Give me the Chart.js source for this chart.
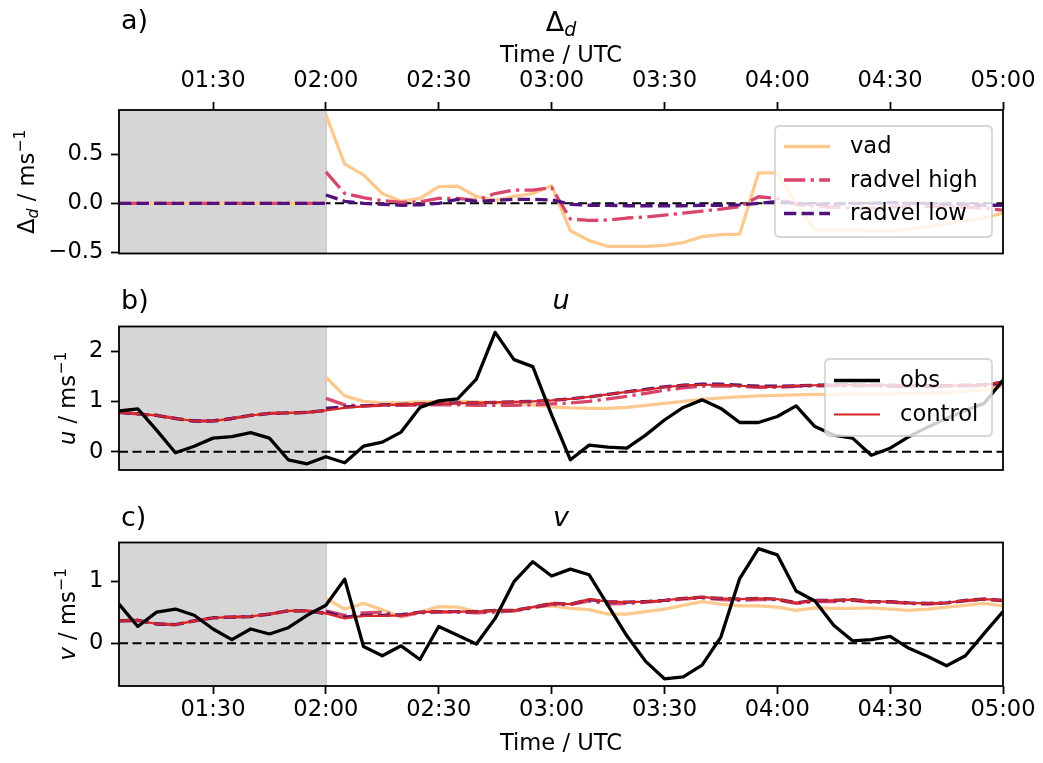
<!DOCTYPE html>
<html><head><meta charset="utf-8">
<script src="https://cdn.jsdelivr.net/npm/chart.js@4"></script>
<style>
html,body{margin:0;padding:0;background:#fff;}
#wrap{position:relative;width:1043px;height:763px;background:#fff;}
canvas{position:absolute;left:0;top:0;}
</style></head><body>
<div id="wrap">
<canvas id="ca" width="1043" height="763"></canvas>
<canvas id="cb" width="1043" height="763"></canvas>
<canvas id="cc" width="1043" height="763"></canvas>
</div>
<script>
// ---------- DATA ----------
// full time axis (5-minute steps)
const times = ["01:05","01:10","01:15","01:20","01:25","01:30","01:35","01:40","01:45","01:50","01:55","02:00",
  "02:05","02:10","02:15","02:20","02:25","02:30","02:35","02:40","02:45","02:50","02:55","03:00",
  "03:05","03:10","03:15","03:20","03:25","03:30","03:35","03:40","03:45","03:50","03:55","04:00",
  "04:05","04:10","04:15","04:20","04:25","04:30","04:35","04:40","04:45","04:50","04:55","05:00"];
const xTickLabels = ["01:30","02:00","02:30","03:00","03:30","04:00","04:30","05:00"];
const spinupEnd = "02:00";
// spin-up period: 01:05 .. 02:00 (12 values); assimilation period: 02:00 .. 05:00 (37 values)

// panel a: Delta_d
const spinDelta = [0,0,0,0,0,0,0,0,0,0,0,0];
const vadDelta = [0.905,0.40,0.29,0.10,0.02,0.05,0.17,0.175,0.07,0.03,0.07,0.10,0.18,
  -0.28,-0.38,-0.44,-0.44,-0.44,-0.43,-0.40,-0.34,-0.32,-0.315,0.31,0.31,
  0.0,-0.27,-0.27,-0.27,-0.28,-0.28,-0.26,-0.24,-0.21,-0.18,-0.15,-0.10];
const radHighDelta = [0.32,0.10,0.057,0.027,0.01,0.015,0.05,0.05,0.03,0.10,0.135,0.135,0.16,
  -0.16,-0.175,-0.17,-0.15,-0.14,-0.12,-0.10,-0.08,-0.06,-0.035,0.067,0.05,
  -0.01,-0.03,-0.04,-0.05,-0.05,-0.04,-0.03,-0.03,-0.03,-0.04,-0.05,-0.07];
const radLowDelta = [0.085,0.02,0.0,-0.01,-0.02,-0.015,0.0,0.04,0.02,0.03,0.04,0.04,0.035,
  -0.01,-0.02,-0.02,-0.025,-0.025,-0.025,-0.025,-0.02,-0.02,-0.015,0.0,0.02,
  0.0,-0.01,-0.01,0.0,0.0,0.01,0.0,0.0,-0.01,-0.01,-0.02,-0.02];

// panel b: u
const obsU = [0.81,0.85,0.43,-0.02,0.11,0.27,0.30,0.38,0.27,-0.16,-0.24,-0.10,
  -0.22,0.11,0.19,0.39,0.88,1.01,1.05,1.44,2.37,1.83,1.69,0.73,
  -0.16,0.13,0.09,0.07,0.33,0.63,0.88,1.03,0.86,0.58,0.58,0.70,
  0.91,0.50,0.33,0.27,-0.07,0.07,0.30,0.49,0.66,0.82,0.96,1.42];
const controlU = [0.78,0.75,0.72,0.66,0.61,0.61,0.66,0.72,0.76,0.77,0.78,0.82,
  0.87,0.90,0.92,0.94,0.95,0.96,0.96,0.97,0.98,0.99,1.00,1.02,
  1.05,1.09,1.14,1.19,1.23,1.28,1.32,1.33,1.33,1.31,1.29,1.29,
  1.31,1.32,1.33,1.33,1.32,1.32,1.31,1.31,1.31,1.32,1.33,1.38];
const spinU = [0.78,0.75,0.72,0.66,0.61,0.61,0.66,0.72,0.76,0.77,0.78,0.82];
const vadU = [1.48,1.11,1.00,0.97,0.97,0.99,1.00,1.00,0.99,0.97,0.96,0.93,0.89,
  0.87,0.86,0.86,0.88,0.92,0.96,1.00,1.04,1.07,1.09,1.11,1.12,
  1.13,1.14,1.14,1.15,1.15,1.15,1.16,1.17,1.18,1.20,1.23,1.30];
const radHighU = [1.06,0.93,0.91,0.92,0.92,0.93,0.93,0.93,0.92,0.92,0.92,0.93,0.95,
  0.97,1.00,1.05,1.10,1.16,1.22,1.27,1.30,1.31,1.30,1.28,1.28,
  1.30,1.31,1.31,1.31,1.31,1.30,1.30,1.30,1.30,1.31,1.31,1.35];
const radLowU = [0.86,0.89,0.91,0.93,0.94,0.95,0.96,0.97,0.97,0.98,0.99,1.00,1.02,
  1.05,1.09,1.14,1.19,1.24,1.29,1.32,1.34,1.34,1.32,1.30,1.30,
  1.31,1.32,1.33,1.33,1.32,1.32,1.31,1.31,1.31,1.32,1.33,1.38];

// panel c: v
const obsV = [0.63,0.27,0.50,0.55,0.45,0.23,0.06,0.23,0.15,0.25,0.45,0.61,
  1.03,-0.05,-0.20,-0.04,-0.26,0.27,0.13,-0.01,0.40,0.99,1.31,1.08,
  1.19,1.10,0.61,0.12,-0.29,-0.57,-0.54,-0.35,0.10,1.04,1.52,1.42,
  0.84,0.68,0.29,0.04,0.06,0.11,-0.08,-0.21,-0.36,-0.20,0.16,0.51];
const controlV = [0.36,0.37,0.31,0.30,0.36,0.41,0.42,0.43,0.47,0.52,0.52,0.48,
  0.40,0.44,0.44,0.45,0.50,0.51,0.51,0.51,0.53,0.53,0.58,0.64,
  0.63,0.71,0.67,0.66,0.67,0.69,0.72,0.74,0.72,0.71,0.72,0.71,
  0.65,0.69,0.69,0.70,0.67,0.67,0.65,0.64,0.65,0.69,0.71,0.69];
const spinV = [0.36,0.37,0.31,0.30,0.36,0.41,0.42,0.43,0.47,0.52,0.52,0.48];
const vadV = [0.72,0.55,0.64,0.54,0.42,0.50,0.59,0.58,0.51,0.51,0.52,0.58,0.60,
  0.56,0.54,0.47,0.47,0.51,0.55,0.61,0.67,0.63,0.60,0.60,0.58,
  0.53,0.57,0.56,0.56,0.57,0.55,0.53,0.55,0.58,0.61,0.64,0.60];
const radHighV = [0.52,0.45,0.49,0.50,0.44,0.49,0.50,0.50,0.49,0.50,0.52,0.57,0.62,
  0.62,0.68,0.63,0.64,0.66,0.68,0.71,0.73,0.70,0.69,0.70,0.70,
  0.64,0.67,0.67,0.69,0.66,0.66,0.64,0.63,0.65,0.68,0.71,0.68];
const radLowV = [0.50,0.42,0.45,0.45,0.46,0.50,0.51,0.51,0.51,0.53,0.53,0.58,0.64,
  0.63,0.70,0.67,0.66,0.67,0.69,0.72,0.74,0.72,0.71,0.72,0.71,
  0.65,0.69,0.69,0.70,0.67,0.67,0.65,0.64,0.65,0.69,0.71,0.69];

const yTicksA = [-0.5, 0.0, 0.5];
const yTicksB = [0, 1, 2];
const yTicksC = [0, 1];

// ---------- HELPERS ----------
Chart.defaults.font.family = '"DejaVu Sans", sans-serif';
Chart.defaults.color = '#000';
const FONT = '"DejaVu Sans"';
const FS = 22.6;

const toMin = s => parseInt(s.slice(0,2),10)*60 + parseInt(s.slice(3),10);
const fmtMin = m => String(Math.floor(m/60)).padStart(2,'0') + ':' + String(m%60).padStart(2,'0');
const xTickVals = xTickLabels.map(toMin);
const X0 = toMin(times[0]), X1 = toMin(times[times.length-1]);
const iSplit = times.indexOf(spinupEnd);
const spinTimes = times.slice(0, iSplit + 1);
const daTimes = times.slice(iSplit);
const series = arr => arr.map((v,i)=>({x: toMin(times[i]), y: v}));
// model run: spin-up segment, a break, then the assimilation segment
const modelSeries = (spin, da) => spin.map((v,i)=>({x: toMin(spinTimes[i]), y: v}))
  .concat([{x: toMin(spinupEnd), y: null}])
  .concat(da.map((v,i)=>({x: toMin(daTimes[i]), y: v})));

const COL = {vad:'#fdc98e', high:'#d8466c', low:'#51127c', obs:'#000000', ctrl:'#d62728'};
const LW = 3.3;
const DASHED = [12.3,5.3], DASHDOT = [21.3,5.3,3.3,5.3], ZERO = [9,4.5];

function dsPts(label, pts, color, width, dash){
  return {label, data: pts, borderColor: color, borderWidth: width, borderDash: dash||[],
    fill:false, pointRadius:0, tension:0, spanGaps:false, borderJoinStyle:'round', borderCapStyle:'butt'};
}
const ds = (label, data, color, width, dash) => dsPts(label, series(data), color, width, dash);
const dsModel = (label, spin, da, color, width, dash) => dsPts(label, modelSeries(spin, da), color, width, dash);
function zeroDs(){
  return {label:'zero', data:[{x:X0,y:0},{x:X1,y:0}], borderColor:'#000', borderWidth:2.1,
    borderDash:ZERO, pointRadius:0, fill:false};
}
function fmtMinus(v, dec){ const s = Math.abs(v).toFixed(dec); return (v < 0 ? '\u2212' : '') + s; }

function drawRich(ctx, parts, x, y, rotate){
  ctx.save();
  ctx.translate(x, y);
  if (rotate) ctx.rotate(-Math.PI/2);
  let total = 0;
  parts.forEach(p=>{ ctx.font = (p.italic?'italic ':'') + p.size + 'px ' + FONT; p.w = ctx.measureText(p.t).width; total += p.w; });
  let cx = -total/2;
  ctx.fillStyle = '#000'; ctx.textBaseline = 'alphabetic'; ctx.textAlign = 'left';
  parts.forEach(p=>{ ctx.font = (p.italic?'italic ':'') + p.size + 'px ' + FONT; ctx.fillText(p.t, cx, p.dy||0); cx += p.w; });
  ctx.restore();
}
function drawLegend(ctx, box, items){
  ctx.save();
  const r = 5;
  ctx.beginPath();
  ctx.moveTo(box.x+r, box.y); ctx.lineTo(box.x+box.w-r, box.y); ctx.quadraticCurveTo(box.x+box.w, box.y, box.x+box.w, box.y+r);
  ctx.lineTo(box.x+box.w, box.y+box.h-r); ctx.quadraticCurveTo(box.x+box.w, box.y+box.h, box.x+box.w-r, box.y+box.h);
  ctx.lineTo(box.x+r, box.y+box.h); ctx.quadraticCurveTo(box.x, box.y+box.h, box.x, box.y+box.h-r);
  ctx.lineTo(box.x, box.y+r); ctx.quadraticCurveTo(box.x, box.y, box.x+r, box.y); ctx.closePath();
  ctx.fillStyle = 'rgba(255,255,255,0.8)'; ctx.fill();
  ctx.lineWidth = 1.8; ctx.strokeStyle = 'rgba(204,204,204,0.8)'; ctx.stroke();
  items.forEach(it=>{
    ctx.beginPath(); ctx.setLineDash(it.borderDash||[]); ctx.lineWidth = it.borderWidth; ctx.strokeStyle = it.borderColor;
    ctx.moveTo(box.lx0, it.y); ctx.lineTo(box.lx1, it.y); ctx.stroke(); ctx.setLineDash([]);
    ctx.fillStyle = '#000'; ctx.font = FS + 'px ' + FONT; ctx.textBaseline = 'middle'; ctx.textAlign='left';
    ctx.fillText(it.label, box.tx, it.y + 1);
  });
  ctx.restore();
}

function makeChart(id, cfg){
  const decor = {
    id: 'decor_'+id,
    beforeDatasetsDraw(chart){
      const {ctx, chartArea:a, scales:{x}} = chart;
      const xe = x.getPixelForValue(toMin(spinupEnd));
      ctx.save();
      ctx.fillStyle = '#d6d6d6'; ctx.fillRect(a.left, a.top, xe - a.left, a.bottom - a.top);
      ctx.fillStyle = '#c8c8c8'; ctx.fillRect(xe-0.5, a.top, 1.5, a.bottom - a.top);
      ctx.restore();
    },
    afterDatasetsDraw(chart){
      const {ctx, chartArea:a} = chart;
      if (cfg.legend){
        const items = cfg.legend.rows.map(r=>{ const d = chart.data.datasets.find(q=>q.label===r.label); return Object.assign({}, d, {y:r.y}); });
        drawLegend(ctx, cfg.legend.box, items);
      }
      ctx.save(); ctx.lineWidth = 1.8; ctx.strokeStyle = '#000';
      ctx.strokeRect(a.left, a.top, a.right - a.left, a.bottom - a.top);
      ctx.restore();
      cfg.texts(ctx);
    }
  };
  const xScale = {
    type:'linear', position: cfg.xPos || 'bottom', display: cfg.showX, min: X0, max: X1,
    afterBuildTicks: s => { s.ticks = xTickVals.map(v=>({value:v})); },
    afterFit: s => { s.height = cfg.xH || 0; },
    ticks:{ callback: v => fmtMin(v), color:'#000', font:{size:FS}, padding: cfg.xPad, maxRotation:0, autoSkip:false },
    grid:{ drawOnChartArea:false, drawTicks:true, tickLength:8, tickWidth:1.8, tickColor:'#000' },
    border:{ display:false }
  };
  return new Chart(document.getElementById(id), {
    type:'line',
    data:{ datasets: cfg.datasets },
    options:{
      responsive:false, animation:false, devicePixelRatio:1, spanGaps:false,
      layout:{ padding:{ left:0, right:40, top: cfg.padTop, bottom: cfg.padBottom } },
      plugins:{ legend:{display:false}, tooltip:{enabled:false}, title:{display:false} },
      scales:{
        x: xScale,
        y:{ type:'linear', min: cfg.yMin, max: cfg.yMax,
          afterBuildTicks: s => { s.ticks = cfg.yTicks.map(v=>({value:v})); },
          afterFit: s => { s.width = 119; },
          ticks:{ callback: v => fmtMinus(v, cfg.yDec), color:'#000', font:{size:FS}, padding:7.6 },
          grid:{ drawOnChartArea:false, drawTicks:true, tickLength:8, tickWidth:1.8, tickColor:'#000' },
          border:{ display:false } }
      }
    },
    plugins:[decor]
  });
}

const supMinus1 = {t:'\u22121', size:15.8, dy:-9};

// ---------- PANEL A ----------
makeChart('ca', {
  padTop:0, padBottom:509.5, xPos:'top', showX:true, xH:110, xPad:7.4,
  yMin:-0.512, yMax:0.952, yTicks:yTicksA, yDec:1,
  datasets:[
    dsModel('radvel low', spinDelta, radLowDelta, COL.low, LW, DASHED),
    dsModel('radvel high', spinDelta, radHighDelta, COL.high, LW, DASHDOT),
    dsModel('vad', spinDelta, vadDelta, COL.vad, LW, []),
    zeroDs()
  ],
  legend:{ box:{x:775, y:126, w:217, h:111, lx0:784, lx1:830, tx:850},
    rows:[{label:'vad', y:146.5},{label:'radvel high', y:180},{label:'radvel low', y:213.5}] },
  texts(ctx){
    ctx.save(); ctx.fillStyle='#000'; ctx.font='27px '+FONT; ctx.textBaseline='alphabetic'; ctx.textAlign='left';
    ctx.fillText('a)', 121, 29); ctx.restore();
    drawRich(ctx, [{t:'\u0394', size:27},{t:'d', size:19, italic:true, dy:5}], 561, 31, false);
    drawRich(ctx, [{t:'Time / UTC', size:FS}], 561, 62, false);
    drawRich(ctx, [{t:'\u0394', size:FS},{t:'d', size:15.8, italic:true, dy:4},{t:' / ms', size:FS}, supMinus1], 34, 181.75, true);
  }
});

// ---------- PANEL B ----------
makeChart('cb', {
  padTop:326.5, padBottom:293, showX:false, xPad:3,
  yMin:-0.363, yMax:2.487, yTicks:yTicksB, yDec:0,
  datasets:[
    ds('obs', obsU, COL.obs, LW, []),
    ds('control', controlU, COL.ctrl, 2.2, []),
    dsModel('radvel low', spinU, radLowU, COL.low, LW, DASHED),
    dsModel('radvel high', spinU, radHighU, COL.high, LW, DASHDOT),
    dsModel('vad', spinU, vadU, COL.vad, LW, []),
    zeroDs()
  ],
  legend:{ box:{x:825, y:359, w:167, h:77, lx0:834, lx1:880, tx:900},
    rows:[{label:'obs', y:380.5},{label:'control', y:414.5}] },
  texts(ctx){
    ctx.save(); ctx.fillStyle='#000'; ctx.font='27px '+FONT; ctx.textBaseline='alphabetic'; ctx.textAlign='left';
    ctx.fillText('b)', 121, 309); ctx.restore();
    drawRich(ctx, [{t:'u', size:27, italic:true}], 561, 309, false);
    drawRich(ctx, [{t:'u', size:FS, italic:true},{t:' / ms', size:FS}, supMinus1], 75, 398.25, true);
  }
});

// ---------- PANEL C ----------
makeChart('cc', {
  padTop:542.5, padBottom:0, xPos:'bottom', showX:true, xH:77, xPad:3,
  yMin:-0.685, yMax:1.618, yTicks:yTicksC, yDec:0,
  datasets:[
    ds('obs', obsV, COL.obs, LW, []),
    ds('control', controlV, COL.ctrl, 2.2, []),
    dsModel('radvel low', spinV, radLowV, COL.low, LW, DASHED),
    dsModel('radvel high', spinV, radHighV, COL.high, LW, DASHDOT),
    dsModel('vad', spinV, vadV, COL.vad, LW, []),
    zeroDs()
  ],
  texts(ctx){
    ctx.save(); ctx.fillStyle='#000'; ctx.font='27px '+FONT; ctx.textBaseline='alphabetic'; ctx.textAlign='left';
    ctx.fillText('c)', 121, 526); ctx.restore();
    drawRich(ctx, [{t:'v', size:27, italic:true}], 561, 526, false);
    drawRich(ctx, [{t:'v', size:FS, italic:true},{t:' / ms', size:FS}, supMinus1], 75, 614.25, true);
    drawRich(ctx, [{t:'Time / UTC', size:FS}], 561, 750, false);
  }
});
</script>
</body></html>
